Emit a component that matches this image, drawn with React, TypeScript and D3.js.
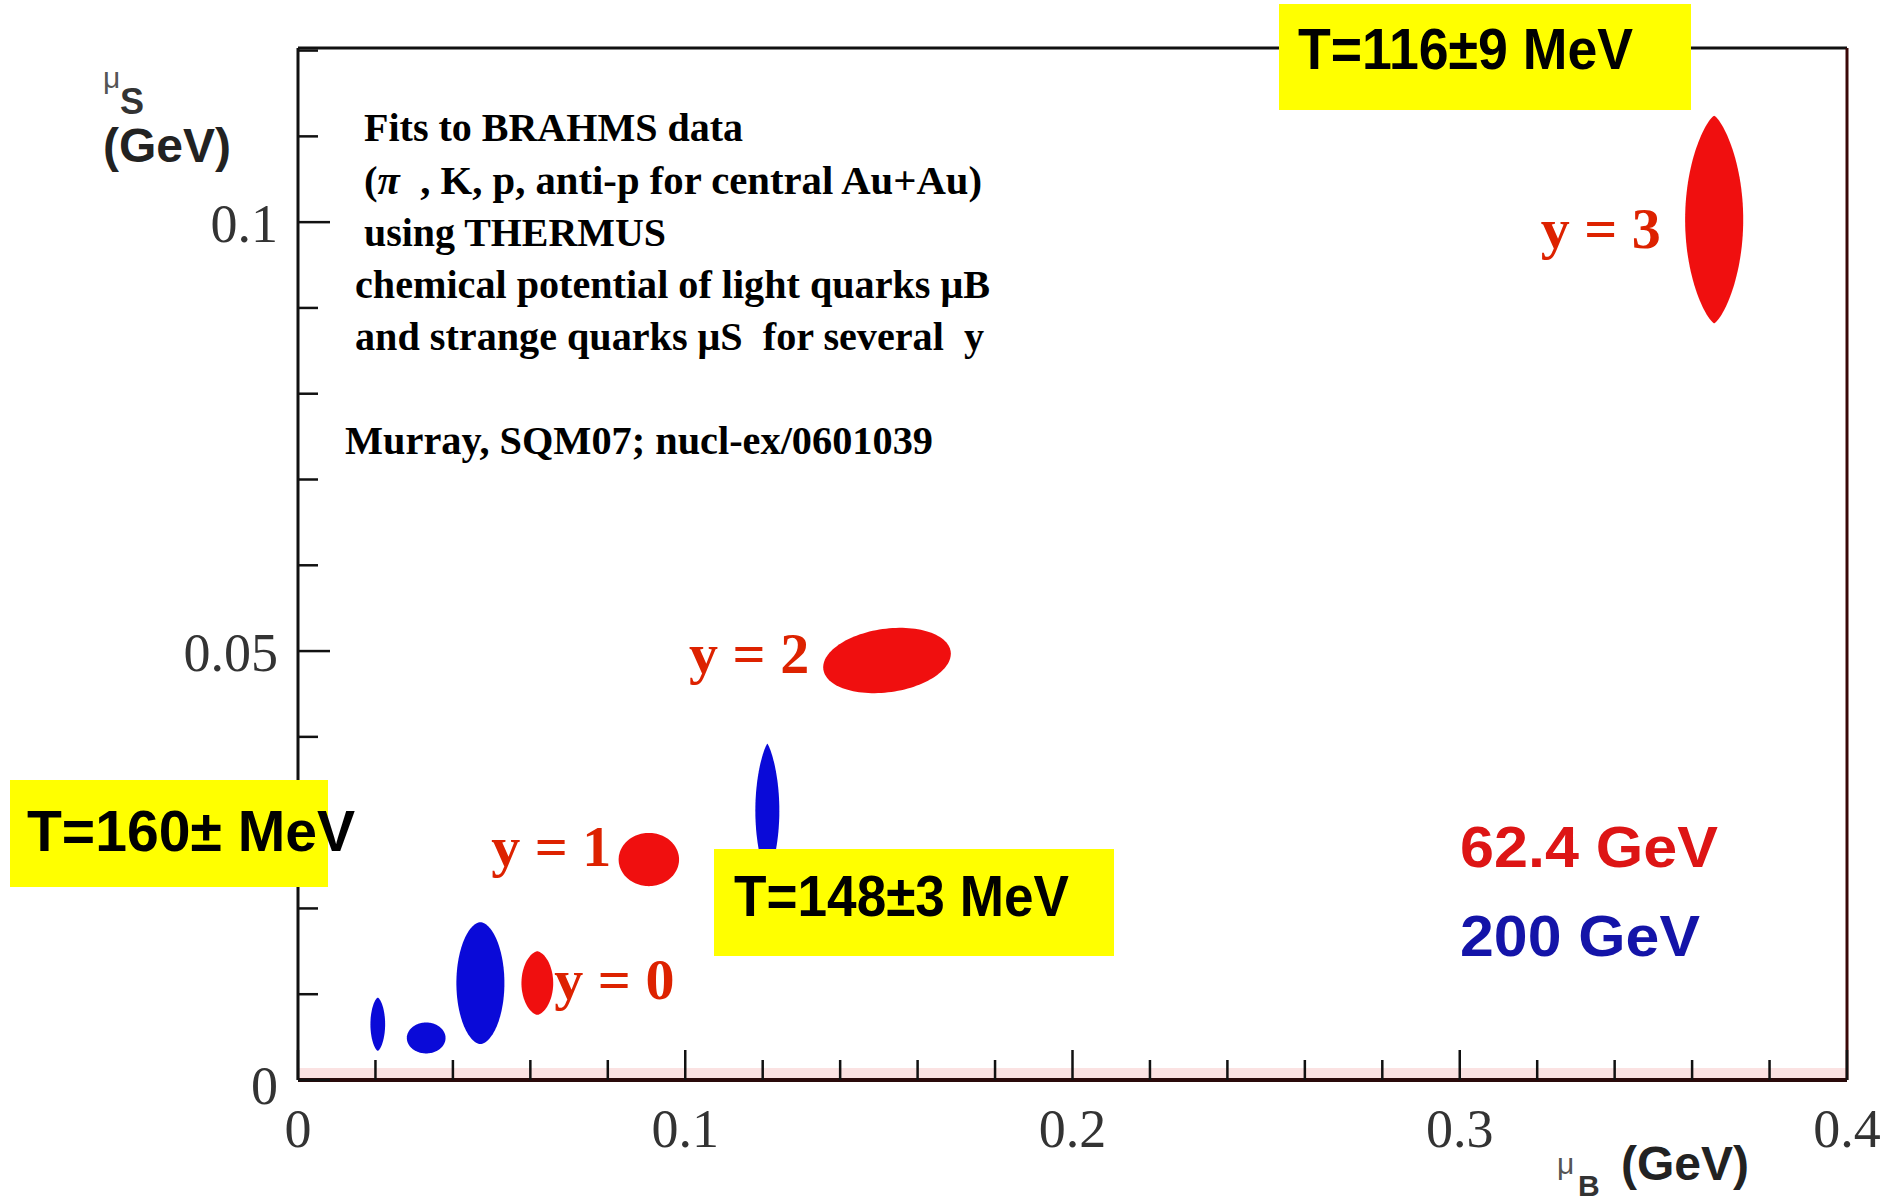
import React, { useEffect } from 'react';
import * as d3 from 'd3';

const width = 1897;
const height = 1203;
const plot = { left: 298, right: 1847, top: 48, bottom: 1080 };

// 62.4 GeV fits (red), per rapidity y = 0..3
const redMuB = [0.0618, 0.0906, 0.1521, 0.3657];
const redMuS = [0.0113, 0.0257, 0.0489, 0.1003];
const redErrB = [0.0041, 0.0078, 0.0166, 0.0075];
const redErrS = [0.0037, 0.0031, 0.0037, 0.0121];
const redTilt = [0, 0, -8, 0];
const redPointy = [1.2, 1, 1, 1.5];

// 200 GeV fits (blue)
const blueMuB = [0.0206, 0.0331, 0.0471, 0.1212];
const blueMuS = [0.0065, 0.0049, 0.0113, 0.0314];
const blueErrB = [0.0019, 0.005, 0.0062, 0.0031];
const blueErrS = [0.0031, 0.0018, 0.0071, 0.0078];
const bluePointy = [1.3, 1, 1.1, 1.6];

const rapidityLabels = ['y = 0', 'y = 1', 'y = 2', 'y = 3'];
const rapidityLabelB = [0.0662, 0.0809, 0.132, 0.3519];
const rapidityLabelS = [0.0095, 0.025, 0.0475, 0.097];

const xTickLabels = ['0', '0.1', '0.2', '0.3', '0.4'];
const xTickValues = [0, 0.1, 0.2, 0.3, 0.4];
const yTickLabels = ['0', '0.05', '0.1'];
const yTickValues = [0, 0.05, 0.1];

const notes = [
  'Fits to BRAHMS data',
  '(π  , K, p, anti-p for central Au+Au)',
  'using THERMUS',
  'chemical potential of light quarks μB',
  'and strange quarks μS  for several  y',
  'Murray, SQM07; nucl-ex/0601039',
];
const noteLayout = [
  { x: 364, y: 141, w: 379 },
  { x: 364, y: 194, w: 618 },
  { x: 364, y: 246, w: 302 },
  { x: 355, y: 298, w: 635 },
  { x: 355, y: 350, w: 629 },
  { x: 345, y: 454, w: 588 },
];

const temperatures = ['T=116±9 MeV', 'T=160± MeV', 'T=148±3 MeV'];
const tempLayout = [
  { bx: 1279, by: 4, bw: 412, bh: 106, tx: 1298, ty: 69, tw: 335 },
  { bx: 10, by: 780, bw: 318, bh: 107, tx: 27, ty: 851, tw: 328 },
  { bx: 714, by: 849, bw: 400, bh: 107, tx: 734, ty: 916, tw: 335 },
];

const legendNames = ['62.4 GeV', '200 GeV'];
const legendColors = ['#dd1515', '#1414a8'];

const RED = '#f00f0f';
const BLUE = '#0a0ad8';
const LABEL_RED = '#dd2200';
const serif = '"Liberation Serif", "DejaVu Serif", serif';
const sans = '"Liberation Sans", Arial, sans-serif';

export default function App() {
  useEffect(() => {
    document.body.style.margin = '0';
    document.body.style.overflow = 'hidden';
  }, []);

  const x = d3.scaleLinear().domain([0, 0.4]).range([plot.left, plot.right]);
  const y = d3.scaleLinear().domain([0, 0.1203]).range([plot.bottom, plot.top]);

  const xMinor = d3.range(0, 0.4001, 0.02);
  const yMinor = y.ticks(12);

  const outline = d3.line().curve(d3.curveLinearClosed);

  // contour: ellipse, with the top/bottom ends sharpened when p > 1
  const blob = (b: number, s: number, eb: number, es: number, p: number, color: string, rot: number, key: string) => {
    const cx = x(b);
    const cy = y(s);
    const rx = x(b + eb) - cx;
    const ry = cy - y(s + es);
    const pts: [number, number][] = d3.range(0, 360, 3).map(deg => {
      const t = (deg * Math.PI) / 180;
      const c = Math.cos(t);
      return [cx + rx * Math.sign(c) * Math.pow(Math.abs(c), p), cy + ry * Math.sin(t)];
    });
    return <path key={key} d={outline(pts) || ''} fill={color} transform={`rotate(${rot} ${cx} ${cy})`} />;
  };

  return (
    <svg width={width} height={height} style={{ display: 'block', background: '#fff' }}>
      {/* faint pink band above the bottom axis */}
      <rect x={plot.left} y={plot.bottom - 12} width={plot.right - plot.left} height={12} fill="#fbe2e2" />

      {/* frame */}
      <line x1={plot.left} x2={plot.right} y1={plot.top} y2={plot.top} stroke="#111" strokeWidth={3} />
      <line x1={plot.right} x2={plot.right} y1={plot.top} y2={plot.bottom} stroke="#3a0808" strokeWidth={3} />
      <line x1={plot.left} x2={plot.left} y1={plot.top} y2={plot.bottom} stroke="#111" strokeWidth={3} />
      <line x1={plot.left} x2={plot.right} y1={plot.bottom} y2={plot.bottom} stroke="#2a0a0a" strokeWidth={4} />

      {/* x ticks */}
      {xMinor.map((v, i) => {
        const major = xTickValues.some(t => Math.abs(t - v) < 1e-6);
        return (
          <line key={`xt${i}`} x1={x(v)} x2={x(v)} y1={plot.bottom} y2={plot.bottom - (major ? 30 : 20)} stroke="#111" strokeWidth={2.5} />
        );
      })}
      {xTickValues.map((v, i) => (
        <text key={`xl${i}`} x={x(v)} y={1147} textAnchor="middle" fontFamily={serif} fontSize={54} fill="#333">
          {xTickLabels[i]}
        </text>
      ))}

      {/* y ticks */}
      {yMinor.map((v, i) => {
        const major = yTickValues.some(t => Math.abs(t - v) < 1e-6);
        return (
          <line key={`yt${i}`} x1={plot.left} x2={plot.left + (major ? 32 : 20)} y1={y(v)} y2={y(v)} stroke="#111" strokeWidth={2.5} />
        );
      })}
      {yTickValues.map((v, i) => (
        <text key={`yl${i}`} x={278} y={y(v) + (i === 0 ? 24 : 20)} textAnchor="end" fontFamily={serif} fontSize={54} fill="#333">
          {yTickLabels[i]}
        </text>
      ))}

      {/* axis titles */}
      <text x={103} y={88} fontFamily={sans} fontSize={30} fill="#555">μ</text>
      <text x={120} y={114} fontFamily={sans} fontSize={36} fontWeight="bold" fill="#333">S</text>
      <text x={103} y={162} fontFamily={sans} fontSize={48} fontWeight="bold" fill="#222">(GeV)</text>

      <text x={1557} y={1174} fontFamily={sans} fontSize={30} fill="#555">μ</text>
      <text x={1578} y={1196} fontFamily={sans} fontSize={30} fontWeight="bold" fill="#333">B</text>
      <text x={1621} y={1180} fontFamily={sans} fontSize={48} fontWeight="bold" fill="#222">(GeV)</text>

      {/* notes */}
      {notes.map((t, i) => {
        const l = noteLayout[i];
        return (
          <text
            key={`n${i}`}
            x={l.x}
            y={l.y}
            fontFamily={serif}
            fontSize={39}
            fontWeight="bold"
            fill="#000"
            textLength={l.w}
            lengthAdjust="spacingAndGlyphs"
            style={{ whiteSpace: 'pre' }}
          >
            {i === 1 ? (
              <>
                (<tspan fontStyle="italic">π</tspan>
                {t.slice(2)}
              </>
            ) : (
              t
            )}
          </text>
        );
      })}

      {/* fit contours */}
      {blueMuB.map((b, i) => blob(b, blueMuS[i], blueErrB[i], blueErrS[i], bluePointy[i], BLUE, 0, `b${i}`))}
      {redMuB.map((b, i) => blob(b, redMuS[i], redErrB[i], redErrS[i], redPointy[i], RED, redTilt[i], `r${i}`))}

      {/* rapidity labels */}
      {rapidityLabels.map((t, i) => (
        <text
          key={`y${i}`}
          x={x(rapidityLabelB[i])}
          y={y(rapidityLabelS[i])}
          textAnchor={i === 0 ? 'start' : 'end'}
          fontFamily={serif}
          fontSize={58}
          fontWeight="bold"
          fill={LABEL_RED}
        >
          {t}
        </text>
      ))}

      {/* temperature boxes */}
      {temperatures.map((t, i) => {
        const l = tempLayout[i];
        return (
          <g key={`t${i}`}>
            <rect x={l.bx} y={l.by} width={l.bw} height={l.bh} fill="#ffff00" />
            <text x={l.tx} y={l.ty} fontFamily={sans} fontSize={58} fontWeight="bold" fill="#000" textLength={l.tw} lengthAdjust="spacingAndGlyphs">
              {t}
            </text>
          </g>
        );
      })}

      {/* legend */}
      {legendNames.map((t, i) => (
        <text key={`lg${i}`} x={1460} y={i === 0 ? 867 : 956} fontFamily={sans} fontSize={58} fontWeight="bold" fill={legendColors[i]} textLength={i === 0 ? 258 : 240} lengthAdjust="spacingAndGlyphs">
          {t}
        </text>
      ))}
    </svg>
  );
}
